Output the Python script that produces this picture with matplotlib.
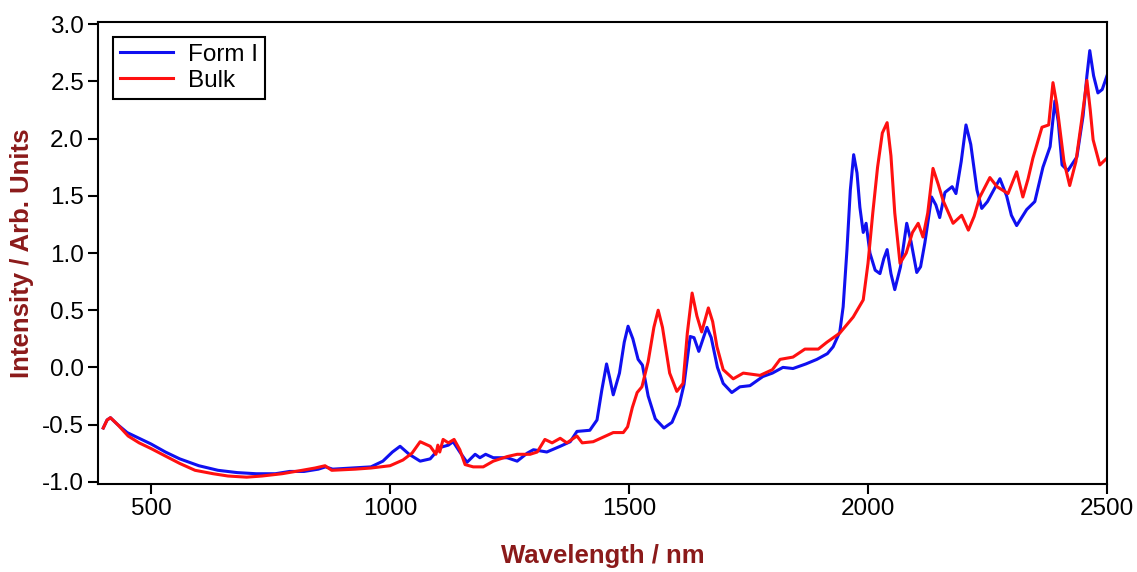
import numpy as np
import matplotlib
matplotlib.use("Agg")
import matplotlib.pyplot as plt

plt.rcParams['font.family'] = ['Liberation Sans', 'DejaVu Sans']

# Form I spectrum (wavelength nm, intensity)
form1_nm = [400, 408, 415, 430, 450, 475, 500, 530, 560, 600, 640, 680, 720, 760, 790,
            820, 850, 865, 880, 920, 960, 985, 1005, 1021, 1040, 1063, 1084, 1105, 1122,
            1132, 1146, 1161, 1178, 1188, 1200, 1216, 1245, 1266, 1287, 1300, 1328, 1356,
            1377, 1391, 1418, 1433, 1443, 1453, 1460, 1467, 1480, 1490, 1498, 1508, 1519,
            1528, 1540, 1555, 1573, 1590, 1605, 1615, 1628, 1636, 1646, 1655, 1663, 1672,
            1685, 1697, 1715, 1732, 1753, 1780, 1800, 1822, 1843, 1870, 1893, 1915, 1927,
            1941, 1948, 1956, 1963, 1970, 1977, 1983, 1990, 1996, 2004, 2015, 2025, 2033,
            2040, 2048, 2056, 2068, 2081, 2090, 2102, 2110, 2119, 2133, 2142, 2150, 2161,
            2176, 2184, 2195, 2205, 2215, 2228, 2238, 2250, 2259, 2276, 2290, 2300, 2311,
            2320, 2332, 2349, 2366, 2381, 2391, 2398, 2406, 2418, 2437, 2450, 2458, 2464,
            2472, 2481, 2490, 2500]
form1_val = [-0.53, -0.46, -0.44, -0.50, -0.57, -0.62, -0.67, -0.74, -0.80, -0.86, -0.90,
             -0.92, -0.93, -0.93, -0.91, -0.91, -0.89, -0.87, -0.89, -0.88, -0.87, -0.82,
             -0.74, -0.69, -0.76, -0.82, -0.80, -0.70, -0.68, -0.65, -0.74, -0.83, -0.76,
             -0.79, -0.76, -0.79, -0.79, -0.82, -0.75, -0.72, -0.74, -0.69, -0.65, -0.56,
             -0.55, -0.46, -0.20, 0.03, -0.10, -0.24, -0.05, 0.22, 0.36, 0.25, 0.07, 0.02,
             -0.25, -0.45, -0.53, -0.48, -0.33, -0.15, 0.27, 0.26, 0.14, 0.25, 0.35, 0.26,
             0.00, -0.14, -0.22, -0.17, -0.16, -0.08, -0.05, 0.00, -0.01, 0.03, 0.07, 0.12,
             0.18, 0.31, 0.53, 1.03, 1.55, 1.86, 1.70, 1.40, 1.18, 1.26, 1.00, 0.85, 0.82,
             0.95, 1.03, 0.82, 0.68, 0.88, 1.26, 1.10, 0.83, 0.88, 1.09, 1.49, 1.42, 1.31,
             1.53, 1.58, 1.52, 1.80, 2.12, 1.95, 1.55, 1.39, 1.45, 1.52, 1.65, 1.50, 1.33,
             1.24, 1.30, 1.38, 1.45, 1.75, 1.93, 2.33, 2.15, 1.77, 1.72, 1.84, 2.20, 2.55,
             2.77, 2.55, 2.40, 2.43, 2.55]

# Bulk spectrum
bulk_nm = [400, 408, 415, 430, 452, 475, 500, 523, 560, 592, 630, 661, 700, 732, 774, 816,
           843, 864, 878, 927, 960, 1000, 1027, 1046, 1063, 1084, 1096, 1100, 1104, 1111,
           1122, 1134, 1146, 1157, 1174, 1195, 1216, 1245, 1266, 1293, 1308, 1324, 1339,
           1356, 1370, 1391, 1402, 1425, 1467, 1488, 1497, 1507, 1517, 1527, 1540, 1552,
           1561, 1570, 1585, 1600, 1613, 1622, 1632, 1642, 1652, 1666, 1675, 1684, 1697,
           1718, 1739, 1774, 1800, 1816, 1843, 1868, 1896, 1914, 1941, 1969, 1990, 2000,
           2010, 2020, 2030, 2040, 2048, 2056, 2067, 2080, 2093, 2105, 2115, 2125, 2136,
           2147, 2157, 2178, 2196, 2210, 2222, 2234, 2255, 2270, 2293, 2311, 2324, 2335,
           2345, 2364, 2378, 2387, 2395, 2410, 2422, 2435, 2447, 2458, 2465, 2471, 2485, 2500]
bulk_val = [-0.53, -0.46, -0.44, -0.50, -0.60, -0.66, -0.71, -0.76, -0.84, -0.90, -0.93,
            -0.95, -0.96, -0.95, -0.93, -0.90, -0.88, -0.86, -0.90, -0.89, -0.88, -0.86,
            -0.81, -0.75, -0.65, -0.69, -0.76, -0.68, -0.74, -0.63, -0.66, -0.63, -0.72,
            -0.85, -0.87, -0.87, -0.82, -0.78, -0.76, -0.76, -0.74, -0.63, -0.66, -0.62,
            -0.66, -0.60, -0.66, -0.65, -0.57, -0.57, -0.52, -0.35, -0.22, -0.17, 0.05,
            0.35, 0.50, 0.35, -0.05, -0.21, -0.14, 0.30, 0.65, 0.45, 0.31, 0.52, 0.40, 0.18,
            -0.02, -0.10, -0.05, -0.07, -0.02, 0.07, 0.09, 0.16, 0.16, 0.22, 0.30, 0.44,
            0.59, 0.91, 1.35, 1.75, 2.05, 2.14, 1.85, 1.35, 0.91, 1.00, 1.18, 1.26, 1.14,
            1.35, 1.74, 1.60, 1.46, 1.26, 1.33, 1.20, 1.32, 1.49, 1.66, 1.58, 1.52, 1.71,
            1.49, 1.65, 1.83, 2.10, 2.12, 2.49, 2.30, 1.80, 1.59, 1.80, 2.16, 2.51, 2.25,
            1.99, 1.77, 1.83]

x_ticks = [500, 1000, 1500, 2000, 2500]
y_ticks = [-1.0, -0.5, 0.0, 0.5, 1.0, 1.5, 2.0, 2.5, 3.0]
label_col = '#8B1A1A'

fig = plt.figure(figsize=(11.37, 5.72), dpi=100)
ax = fig.add_axes([0.0862, 0.1538, 0.8874, 0.8077])

ax.plot(form1_nm, form1_val, color='#1010f0', lw=2.2, label='Form I')
ax.plot(bulk_nm, bulk_val, color='#ff1010', lw=2.2, label='Bulk')

ax.set_xlim(389, 2500)
ax.set_ylim(-1.02, 3.02)
ax.set_xticks(x_ticks)
ax.set_yticks(y_ticks)
ax.set_yticklabels([f'{v:.1f}' for v in y_ticks])
ax.tick_params(direction='out', length=7, width=1.5, labelsize=17.5, pad=3)
for s in ax.spines.values():
    s.set_linewidth(1.5)

ax.set_xlabel('Wavelength / nm', fontsize=18.5, fontweight='bold', color=label_col, labelpad=17)
ax.set_ylabel('Intensity / Arb. Units', fontsize=18.5, fontweight='bold', color=label_col, labelpad=6)

leg = ax.legend(loc='upper left', fontsize=17.5, frameon=True, fancybox=False,
                framealpha=1, edgecolor='black', handlelength=2.2,
                borderaxespad=0.6, borderpad=0.3, labelspacing=0.15, handletextpad=0.6)
leg.get_frame().set_linewidth(1.5)

fig.savefig('out.png', dpi=100)
